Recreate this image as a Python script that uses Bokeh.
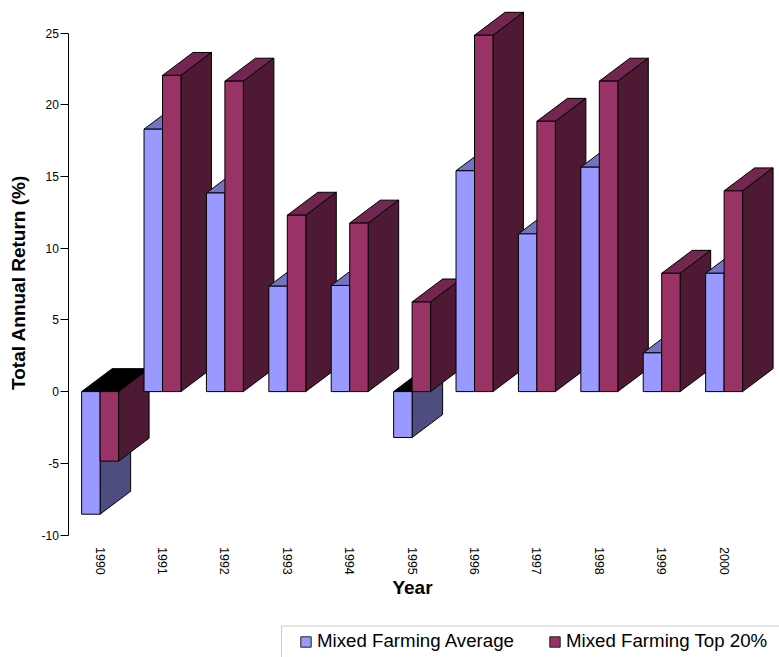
import math
from bokeh.embed import file_html
from bokeh.models import (BoxAnnotation, ColumnDataSource, FixedTicker, Label, Legend, LegendItem,
                          LinearAxis, Range1d)
from bokeh.plotting import figure
from bokeh.resources import INLINE

years = ["1990", "1991", "1992", "1993", "1994", "1995", "1996", "1997", "1998", "1999", "2000"]
farm_average = [-8.55, 18.3, 13.85, 7.35, 7.4, -3.2, 15.4, 11.0, 15.65, 2.7, 8.25]
farm_top20 = [-4.85, 22.05, 21.65, 12.3, 11.75, 6.25, 24.85, 18.85, 21.65, 8.25, 14.0]
y_ticks = [-10, -5, 0, 5, 10, 15, 20, 25]

BAR_WIDTH = 0.296
DEPTH_X = 0.489
DEPTH_Y = 1.6
FONT = "Liberation Sans"

AVG_COLORS = {"front": "#9999FF", "side": "#4D4D80", "top": "#7373BF"}
TOP_COLORS = {"front": "#993366", "side": "#4D1933", "top": "#732650"}

# The frame fills the page; the axes are pinned to data positions inside it
WIDTH, HEIGHT = 779, 657
PX_PER_CAT, PX_PER_UNIT = 62.4, 14.34
AXIS_PX_X, AXIS_PX_Y = 68.4, 534.5

x_start = -0.5 - AXIS_PX_X / PX_PER_CAT
y_start = -10 - (HEIGHT - AXIS_PX_Y) / PX_PER_UNIT

p = figure(
    width=WIDTH, height=HEIGHT, output_backend="svg", toolbar_location=None,
    x_range=Range1d(x_start, x_start + WIDTH / PX_PER_CAT),
    y_range=Range1d(y_start, y_start + HEIGHT / PX_PER_UNIT),
    frame_width=WIDTH, frame_height=HEIGHT, x_axis_location=None, y_axis_location=None,
    min_border=0, outline_line_color=None, background_fill_color="white", border_fill_color="white",
)
p.grid.visible = False


def bar_faces(left, value, colors):
    """Return the three faces of one extruded bar, back faces first."""
    right = left + BAR_WIDTH
    low, high = min(value, 0), max(value, 0)
    top_color = "#000000" if value < 0 else colors["top"]
    top = ([left, right, right + DEPTH_X, left + DEPTH_X],
           [high, high, high + DEPTH_Y, high + DEPTH_Y], top_color)
    side = ([right, right + DEPTH_X, right + DEPTH_X, right],
            [low, low + DEPTH_Y, high + DEPTH_Y, high], colors["side"])
    front = ([left, right, right, left], [low, low, high, high], colors["front"])
    return [top, side, front]


xs, ys, fills = [], [], []
for i in range(len(years)):
    pairs = [(i - BAR_WIDTH, farm_average[i], AVG_COLORS), (i, farm_top20[i], TOP_COLORS)]
    for left, value, colors in pairs:
        for fx, fy, color in bar_faces(left, value, colors):
            xs.append(fx)
            ys.append(fy)
            fills.append(color)

p.patches("xs", "ys", source=ColumnDataSource(dict(xs=xs, ys=ys, fill=fills)),
          fill_color="fill", line_color="#000000", line_width=1)

# Value axis
y_axis = LinearAxis(fixed_location=-0.5, bounds=(-10, 25), ticker=FixedTicker(ticks=y_ticks))
y_axis.major_label_overrides = {t: str(t) for t in y_ticks}
y_axis.major_tick_in = 0
y_axis.major_tick_out = 8
y_axis.minor_tick_line_color = None
y_axis.axis_line_color = "#000000"
y_axis.major_tick_line_color = "#000000"
y_axis.major_label_text_font = FONT
y_axis.major_label_text_font_size = "12px"
y_axis.major_label_text_color = "#000000"
y_axis.major_label_standoff = 2
p.add_layout(y_axis, "left")

# Category axis: rotated year labels, no line or ticks
x_axis = LinearAxis(fixed_location=-10, ticker=FixedTicker(ticks=list(range(len(years)))))
x_axis.major_label_overrides = {i: y for i, y in enumerate(years)}
x_axis.major_label_orientation = -math.pi / 2
x_axis.axis_line_color = None
x_axis.major_tick_line_color = None
x_axis.minor_tick_line_color = None
x_axis.major_label_text_font = FONT
x_axis.major_label_text_font_size = "12.5px"
x_axis.major_label_text_color = "#000000"
x_axis.major_label_standoff = 6
p.add_layout(x_axis, "below")

# Axis titles
p.add_layout(Label(x=412, y=HEIGHT - 587, x_units="screen", y_units="screen", text="Year",
                   text_font=FONT, text_font_size="19px", text_font_style="bold",
                   text_align="center", text_baseline="middle", text_color="#000000"))
p.add_layout(Label(x=18, y=HEIGHT - 282, x_units="screen", y_units="screen",
                   text="Total Annual Return (%)", angle=math.pi / 2, text_font=FONT,
                   text_font_size="19px", text_font_style="bold", text_align="center",
                   text_baseline="middle", text_color="#000000"))

# Legend frame runs off the right and bottom edges of the page
p.add_layout(BoxAnnotation(left=x_start + 281 / PX_PER_CAT, right=x_start + 900 / PX_PER_CAT,
                           top=y_start + (HEIGHT - 625.5) / PX_PER_UNIT,
                           bottom=y_start - 20 / PX_PER_UNIT,
                           fill_color="white", fill_alpha=1, line_color="#555555", line_width=1))

swatch_avg = p.patches([[]], [[]], fill_color=AVG_COLORS["front"], line_color="#222222")
swatch_top = p.patches([[]], [[]], fill_color=TOP_COLORS["front"], line_color="#222222")
legend = Legend(
    items=[LegendItem(label="Mixed Farming Average", renderers=[swatch_avg]),
           LegendItem(label="Mixed Farming Top 20%", renderers=[swatch_top])],
    orientation="horizontal", location=(299, 5), margin=0, padding=6,
    glyph_width=13, glyph_height=13, label_standoff=5, spacing=34,
    label_text_font=FONT, label_text_font_size="18.7px", label_text_color="#000000",
    border_line_color=None, background_fill_alpha=0,
)
p.add_layout(legend, "center")

open("out.html", "w").write(file_html(p, INLINE))
